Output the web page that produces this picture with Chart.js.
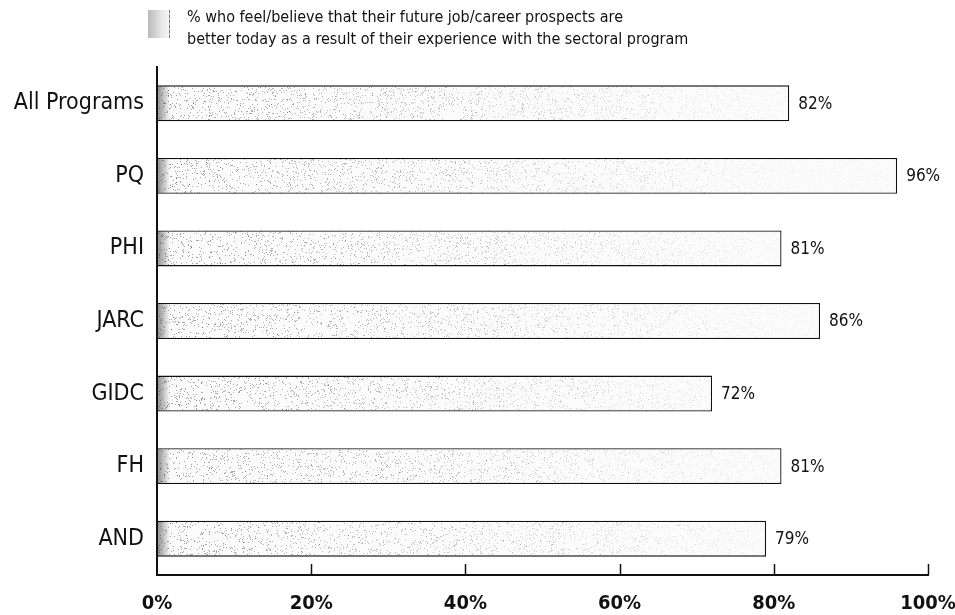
<!DOCTYPE html>
<html>
<head>
<meta charset="utf-8">
<script src="https://cdn.jsdelivr.net/npm/chart.js@4"></script>
<style>
  html, body { margin: 0; padding: 0; background: #fff; }
  #wrap { position: relative; width: 955px; height: 615px; }
  #legend { position: absolute; left: 148px; top: 6px; font-family: "DejaVu Sans Condensed", "Liberation Sans Narrow", sans-serif; font-size: 16px; line-height: 22px; color: #111; }
  #swatch { position: absolute; left: 0; top: 4px; width: 21px; height: 28px; border-right: 1px dashed #777; background: linear-gradient(90deg, #bbb, #e4e4e4 60%, #f4f4f4); }
  #legtext { margin-left: 39px; white-space: nowrap; }
</style>
</head>
<body>
<div id="wrap">
  <canvas id="chart" width="955" height="615"></canvas>
  <div id="legend"><div id="swatch"></div><div id="legtext">% who feel/believe that their future job/career prospects are<br>better today as a result of their experience with the sectoral program</div></div>
</div>
<script>
// data
var programs = ["All Programs", "PQ", "PHI", "JARC", "GIDC", "FH", "AND"]
var better_today = [82, 96, 81, 86, 72, 81, 79]
var x_ticks = [0, 20, 40, 60, 80, 100]

var FONT = '"DejaVu Sans Condensed", "Liberation Sans Narrow", sans-serif'

//speckled grey fill like the scanned bars (pattern anchored to canvas origin)
function makeFill(){
    var c = document.createElement('canvas')
    c.width = 960; c.height = 615
    var g = c.getContext('2d')
    g.fillStyle = '#fbfbfb'
    g.fillRect(0,0,960,615)
    var s = 11
    for(var i=0;i<40000;i++){
        s = (s*16807) % 2147483647
        var x = 157 + s % 800
        s = (s*16807) % 2147483647
        var y = s % 615
        var a = 0.5*Math.max(0.08, 1 - (x-157)/700)
        g.fillStyle = 'rgba(70,70,70,'+a.toFixed(2)+')'
        g.fillRect(x,y,1,1)
    }
    //darker strip at the left edge
    var grad = g.createLinearGradient(157,0,170,0)
    grad.addColorStop(0,'rgba(60,60,60,0.6)')
    grad.addColorStop(1,'rgba(60,60,60,0)')
    g.fillStyle = grad
    g.fillRect(157,0,13,615)
    return g.createPattern(c,'no-repeat')
}

var tickMarks = {
    id: 'tickMarks',
    afterDraw: function(chart){
        var ctx = chart.ctx
        var xs = chart.scales.x
        var bottom = chart.chartArea.bottom
        ctx.save()
        ctx.strokeStyle = '#111'
        ctx.lineWidth = 1.5
        x_ticks.forEach(function(v){
            if(v == 0) return
            var px = Math.round(xs.getPixelForValue(v)) + 0.5
            ctx.beginPath()
            ctx.moveTo(px, bottom)
            ctx.lineTo(px, bottom - 11)
            ctx.stroke()
        })
        ctx.restore()
    }
}

var valueLabels = {
    id: 'valueLabels',
    afterDatasetsDraw: function(chart){
        var ctx = chart.ctx
        var meta = chart.getDatasetMeta(0)
        ctx.save()
        ctx.fillStyle = '#111'
        ctx.font = '17px ' + FONT
        ctx.textBaseline = 'middle'
        meta.data.forEach(function(bar, i){
            ctx.fillText(better_today[i] + '%', bar.x + 9, bar.y + 1)
        })
        ctx.restore()
    }
}

var ctx = document.getElementById('chart')
new Chart(ctx, {
    type: 'bar',
    data: {
        labels: programs,
        datasets: [{
            data: better_today,
            backgroundColor: makeFill(),
            borderColor: '#111',
            borderWidth: 1.3,
            borderSkipped: false,
            barPercentage: 0.97,
            categoryPercentage: 0.51
        }]
    },
    options: {
        indexAxis: 'y',
        responsive: false,
        animation: false,
        layout: { padding: { top: 67, right: 27, left: 0, bottom: 0 } },
        plugins: { legend: { display: false }, tooltip: { enabled: false } },
        scales: {
            x: {
                min: 0, max: 100,
                afterFit: function(scale){ scale.height = 40; scale.paddingLeft = 0; scale.paddingRight = 0 },
                afterBuildTicks: function(scale){ scale.ticks = x_ticks.map(function(v){ return {value: v} }) },
                grid: { display: false, drawTicks: false },
                border: { display: true, color: '#111', width: 2 },
                ticks: { color: '#111', padding: 17, font: { family: FONT, size: 20, weight: 'bold' }, callback: function(v){ return v + '%' } }
            },
            y: {
                afterFit: function(scale){ scale.width = 157 },
                grid: { display: false, drawTicks: false },
                border: { display: true, color: '#111', width: 2 },
                ticks: { color: '#111', padding: 13, font: { family: FONT, size: 23 } }
            }
        }
    },
    plugins: [tickMarks, valueLabels]
})
</script>
</body>
</html>
